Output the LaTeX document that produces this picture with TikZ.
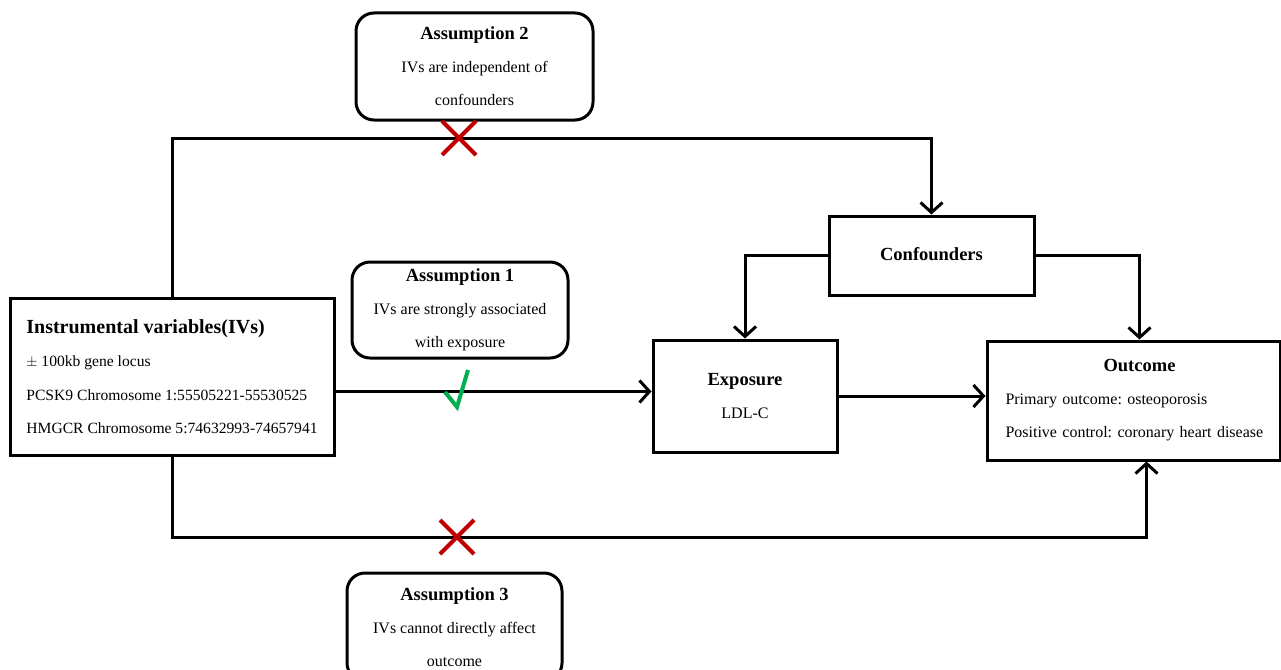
\documentclass[tikz,border=0pt]{standalone}
\usepackage{fontspec}
\setmainfont{Liberation Serif}
\usepackage{tikz}
\usetikzlibrary{arrows.meta}
\usetikzlibrary{shapes.misc}
\definecolor{xred}{RGB}{192,0,0}
\definecolor{okgreen}{RGB}{0,176,80}
\frenchspacing
\tikzset{%
    box/.style={draw,line width=3pt,rectangle,font=\fontsize{16}{33}\selectfont}
}
\newcommand{\ttl}[1]{{\bfseries\fontsize{18.5}{33}\selectfont #1}}

\begin{document}
\begin{tikzpicture}[
        x=1pt,y=-1pt,
        asm/.style={box,rounded corners=18pt,align=center},
        conn/.style={line width=3pt},
        arr/.style={conn,-{Straight Barb[length=10pt,width=22pt]}},
        xmark/.style={cross out,draw=xred,line width=4pt,minimum size=30pt,inner sep=0pt}
        ]
        \useasboundingbox (0,0) rectangle (1281,669);
        \fill[white] (0,0) rectangle (1281,669);

        \node[box,align=left,minimum width=324pt,minimum height=157pt,
              font=\fontsize{15.6}{33.5}\selectfont] (iv) at (172,376.5)
            {{\bfseries\fontsize{20}{33}\selectfont Instrumental variables(IVs)}\\ $\pm$ 100kb gene locus\\ PCSK9 Chromosome 1:55505221-55530525\\ HMGCR Chromosome 5:74632993-74657941};
        \node[asm,minimum width=237pt,minimum height=107pt] (a2) at (474.5,66.5)
            {\ttl{Assumption 2}\\ IVs are independent of\\ confounders};
        \node[asm,minimum width=216pt,minimum height=96pt] (a1) at (460,310)
            {\ttl{Assumption 1}\\ IVs are strongly associated\\ with exposure};
        \node[asm,minimum width=215pt,minimum height=108pt] (a3) at (454.5,627)
            {\ttl{Assumption 3}\\ IVs cannot directly affect\\ outcome};
        \node[box,minimum width=205pt,minimum height=79pt] (conf) at (931.5,255.5)
            {\raisebox{3pt}{\ttl{Confounders}}};
        \node[box,align=center,minimum width=184pt,minimum height=112pt] (expo) at (745,396)
            {\ttl{Exposure}\\ LDL-C};
        \node[box,align=left,text width=264pt,minimum width=293pt,minimum height=119pt] (out) at (1133.5,400.5)
            {\makebox[\linewidth][c]{\hspace*{12pt}\ttl{Outcome}}\\ \hspace*{4pt}Primary outcome: osteoporosis\\ \hspace*{4pt}Positive control: coronary heart disease};

        \coordinate (top) at (0,138);
        \coordinate (bot) at (0,537);

        % paths from the IVs
        \draw[arr] (iv.north) -- (iv.north |- top) -- (conf.north |- top) -- (conf.north);
        \draw[arr] ([yshift=-15pt]iv.east) -- ([yshift=-15pt]iv.east -| expo.west);
        \draw[arr] (iv.south) -- (iv.south |- bot) -- ([xshift=13pt]out.south |- bot) -- ([xshift=13pt]out.south);

        % confounders and exposure
        \draw[arr] (conf.west) -- (conf.west -| expo.north) -- (expo.north);
        \draw[arr] (conf.east) -- ([xshift=6pt]out.north |- conf.east) -- ([xshift=6pt]out.north);
        \draw[arr] (expo.east) -- (expo.east -| out.west);

        \node[xmark] (x2) at (459,138) {};
        \node[xmark] (x3) at (457,537) {};
        \draw[okgreen,line width=4pt] (445,392) -- (457,407) -- (468,370);
    \end{tikzpicture}
\end{document}
